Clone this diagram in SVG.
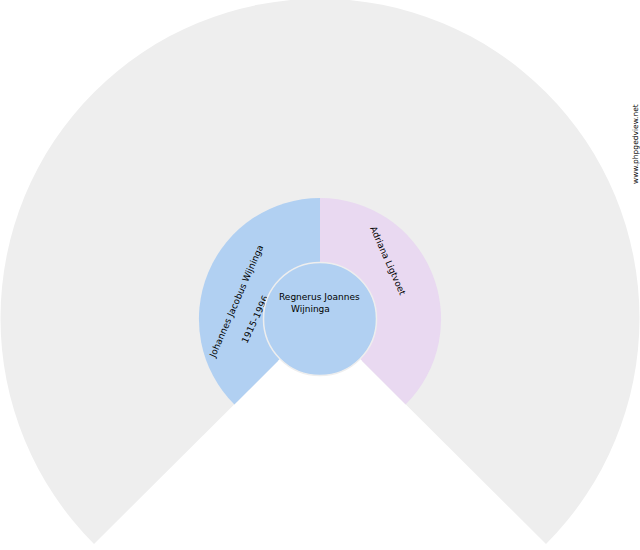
<svg xmlns="http://www.w3.org/2000/svg" width="640" height="550" viewBox="0 0 640 550">
<style>
text{font-family:"DejaVu Sans",sans-serif;fill:#000;font-size:9px}
.s{stroke:#eee;stroke-width:1.500}
</style>
<rect width="640" height="550" fill="#fff"/>
<g id="outer-ring"><path d="M320 319L94 544A319.500 319.500 0 1 1 546 544Z" fill="#eee"/></g>
<g id="father">
<path d="M320 198A121 121 0 0 0 234.400 404.600L320 319Z" fill="#b1d0f2"/>
<text transform="translate(215 358) rotate(-66.500)" letter-spacing=".05">Johannes Jacobus Wijninga</text>
<text transform="translate(247 344) rotate(-65)" letter-spacing=".3">1915-1996</text>
</g>
<g id="mother">
<path d="M320 198A121 121 0 0 1 405.600 404.600L320 319Z" fill="#e9d9f1"/>
<text transform="translate(370 228) rotate(66)">Adriana Ligtvoet</text>
</g>
<path d="M278 361L320 319L362 361A59 59 0 0 1 278 361Z" fill="#fff"/>
<g id="root">
<circle cx="320" cy="319" r="56.500" fill="#b1d0f2" class="s"/>
<text x="279" y="300">Regnerus Joannes</text>
<text x="291" y="312">Wijninga</text>
</g>
<text transform="translate(638 184) rotate(-90)" style="font-size:7.500px">www.phpgedview.net</text>
</svg>
